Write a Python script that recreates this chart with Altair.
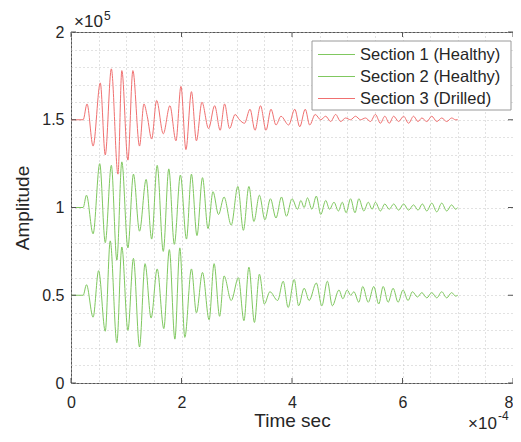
import altair as alt
import pandas as pd

# ---- data: time in units of 1e-4 s, amplitude in units of 1e5 ----
series_names = ["Section 1 (Healthy)", "Section 2 (Healthy)", "Section 3 (Drilled)"]
series_colors = ["#80c860", "#80c860", "#f07070"]

section1 = [(0.00, 0.50), (0.22, 0.50), (0.28, 0.56), (0.40, 0.375), (0.50, 0.64), (0.62, 0.295),
            (0.71, 0.81), (0.83, 0.23), (0.92, 0.775), (1.03, 0.30), (1.13, 0.71), (1.24, 0.205),
            (1.34, 0.68), (1.45, 0.37), (1.56, 0.65), (1.68, 0.31), (1.78, 0.76), (1.88, 0.25),
            (1.97, 0.77), (2.06, 0.26), (2.18, 0.65), (2.27, 0.40), (2.38, 0.63), (2.50, 0.36),
            (2.59, 0.68), (2.69, 0.38), (2.77, 0.61), (2.90, 0.47), (3.03, 0.60), (3.13, 0.355),
            (3.22, 0.66), (3.32, 0.345), (3.41, 0.62), (3.50, 0.45), (3.60, 0.52), (3.74, 0.47),
            (3.84, 0.58), (3.93, 0.43), (4.04, 0.59), (4.12, 0.44), (4.22, 0.54), (4.31, 0.47),
            (4.44, 0.57), (4.54, 0.44), (4.64, 0.58), (4.73, 0.44), (4.85, 0.53), (4.92, 0.48),
            (5.00, 0.53), (5.06, 0.50), (5.12, 0.52), (5.21, 0.46), (5.28, 0.55), (5.38, 0.46),
            (5.48, 0.55), (5.57, 0.45), (5.65, 0.55), (5.74, 0.46), (5.83, 0.54), (5.92, 0.46),
            (6.01, 0.53), (6.10, 0.47), (6.18, 0.52), (6.27, 0.49), (6.35, 0.515), (6.44, 0.485),
            (6.53, 0.515), (6.62, 0.485), (6.71, 0.52), (6.80, 0.485), (6.89, 0.515), (6.96, 0.495),
            (7.00, 0.50)]

section2 = [(0.00, 1.00), (0.22, 1.00), (0.28, 1.07), (0.40, 0.85), (0.52, 1.25), (0.62, 0.80),
            (0.73, 1.24), (0.83, 0.70), (0.92, 1.26), (1.03, 0.77), (1.13, 1.19), (1.24, 0.865),
            (1.36, 1.16), (1.46, 0.82), (1.56, 1.24), (1.67, 0.75), (1.77, 1.22), (1.87, 0.79),
            (1.98, 1.185), (2.09, 0.82), (2.18, 1.19), (2.28, 0.84), (2.38, 1.17), (2.48, 0.88),
            (2.57, 1.09), (2.67, 0.96), (2.77, 1.06), (2.90, 0.90), (3.02, 1.12), (3.12, 0.87),
            (3.22, 1.12), (3.31, 0.92), (3.41, 1.07), (3.51, 0.93), (3.61, 1.05), (3.71, 0.94),
            (3.81, 1.06), (3.90, 0.95), (4.00, 1.05), (4.10, 0.99), (4.16, 1.04), (4.22, 1.00),
            (4.28, 1.055), (4.36, 0.99), (4.44, 1.065), (4.52, 0.96), (4.61, 1.04), (4.68, 0.99),
            (4.76, 1.03), (4.84, 0.98), (4.91, 1.03), (4.98, 0.97), (5.06, 1.05), (5.14, 0.97),
            (5.21, 1.05), (5.30, 0.98), (5.38, 1.03), (5.45, 0.99), (5.51, 1.03), (5.60, 0.98),
            (5.68, 1.02), (5.76, 0.99), (5.84, 1.02), (5.93, 0.985), (6.02, 1.02), (6.11, 0.985),
            (6.20, 1.015), (6.28, 0.985), (6.36, 1.02), (6.44, 0.98), (6.53, 1.025), (6.62, 0.975),
            (6.71, 1.025), (6.80, 0.98), (6.89, 1.015), (6.96, 0.99), (7.00, 1.00)]

section3 = [(0.00, 1.50), (0.22, 1.50), (0.29, 1.59), (0.40, 1.35), (0.53, 1.71), (0.62, 1.30),
            (0.73, 1.79), (0.85, 1.19), (0.92, 1.78), (1.03, 1.27), (1.12, 1.78), (1.24, 1.35),
            (1.32, 1.59), (1.38, 1.52), (1.46, 1.39), (1.55, 1.61), (1.67, 1.42), (1.79, 1.58),
            (1.90, 1.38), (1.99, 1.69), (2.08, 1.33), (2.18, 1.66), (2.27, 1.38), (2.37, 1.60),
            (2.49, 1.45), (2.60, 1.58), (2.70, 1.44), (2.78, 1.59), (2.87, 1.45), (2.97, 1.53),
            (3.05, 1.50), (3.14, 1.48), (3.24, 1.56), (3.33, 1.44), (3.43, 1.58), (3.53, 1.44),
            (3.62, 1.56), (3.71, 1.47), (3.80, 1.52), (3.94, 1.47), (4.05, 1.56), (4.14, 1.46),
            (4.24, 1.56), (4.32, 1.47), (4.42, 1.53), (4.52, 1.50), (4.61, 1.52), (4.70, 1.49),
            (4.79, 1.53), (4.88, 1.49), (4.97, 1.51), (5.06, 1.50), (5.15, 1.52), (5.24, 1.50),
            (5.33, 1.51), (5.42, 1.49), (5.51, 1.53), (5.60, 1.48), (5.68, 1.52), (5.76, 1.48),
            (5.84, 1.52), (5.93, 1.49), (6.02, 1.52), (6.11, 1.48), (6.20, 1.52), (6.28, 1.49),
            (6.35, 1.51), (6.44, 1.49), (6.53, 1.52), (6.62, 1.49), (6.71, 1.51), (6.80, 1.49),
            (6.89, 1.51), (6.96, 1.50), (7.00, 1.50)]

x_major = [0, 2, 4, 6, 8]
y_major = [0, 0.5, 1, 1.5, 2]
x_grid = [i * 0.5 for i in range(17)]
y_grid = [round(i * 0.1, 1) for i in range(21)]

# ---- build table ----
rows = []
for name, pts in zip(series_names, [section1, section2, section3]):
    for t, v in pts:
        rows.append({"series": name, "t": t, "v": v})
df = pd.DataFrame(rows)

W, H = 442, 351
FONT = "Liberation Sans"
TXT = "#262626"
BOX = "#555555"

xscale = alt.Scale(domain=[0, 8], nice=False, zero=False)
yscale = alt.Scale(domain=[0, 2], nice=False, zero=False)

x_axis = alt.Axis(
    values=x_grid, grid=True, gridDash=[1, 3], gridColor="#c4c4c4", gridWidth=1,
    ticks=False, domain=False, format="~g",
    labelExpr="datum.value % 2 == 0 ? datum.label : ''",
    labelAlign={"condition": {"test": "datum.value == 8", "value": "right"}, "value": "center"},
    labelOverlap=False, labelFlush=False, labelBound=False,
    labelFontSize=16, labelFont=FONT, labelColor=TXT, labelPadding=11,
    title="Time sec", titleFontSize=19, titleFont=FONT, titleColor=TXT,
    titleFontWeight="normal", titlePadding=1)
y_axis = alt.Axis(
    values=y_grid, grid=True, gridDash=[1, 3], gridColor="#c4c4c4", gridWidth=1,
    ticks=False, domain=False, format="~g",
    labelExpr="abs(datum.value * 2 - round(datum.value * 2)) < 0.001 ? datum.label : ''",
    labelOverlap=False, labelFlush=False, labelBound=False,
    labelFontSize=16, labelFont=FONT, labelColor=TXT, labelPadding=7,
    title="Amplitude", titleFontSize=19, titleFont=FONT, titleColor=TXT,
    titleFontWeight="normal", titlePadding=9)

lines = alt.Chart(df).mark_line(strokeWidth=1, interpolate="monotone").encode(
    x=alt.X("t:Q", scale=xscale, axis=x_axis),
    y=alt.Y("v:Q", scale=yscale, axis=y_axis),
    color=alt.Color("series:N", scale=alt.Scale(domain=series_names, range=series_colors),
                    legend=None),
)

xt = pd.DataFrame({"t": x_major})
yt = pd.DataFrame({"v": y_major})
tick_x_bottom = alt.Chart(xt).mark_rule(color=BOX, strokeWidth=1).encode(
    x=alt.X("t:Q", scale=xscale, axis=x_axis), y=alt.value(H), y2=alt.value(H - 5))
tick_x_top = alt.Chart(xt).mark_rule(color=BOX, strokeWidth=1).encode(
    x=alt.X("t:Q", scale=xscale, axis=x_axis), y=alt.value(0), y2=alt.value(5))
tick_y_left = alt.Chart(yt).mark_rule(color=BOX, strokeWidth=1).encode(
    y=alt.Y("v:Q", scale=yscale, axis=y_axis), x=alt.value(0), x2=alt.value(5))
tick_y_right = alt.Chart(yt).mark_rule(color=BOX, strokeWidth=1).encode(
    y=alt.Y("v:Q", scale=yscale, axis=y_axis), x=alt.value(W), x2=alt.value(W - 5))

one = pd.DataFrame({"k": [0]})

# exponent labels
exp_top = alt.Chart(one).mark_text(text="×10", align="left", baseline="middle",
                                   fontSize=17, font=FONT, color=TXT).encode(
    x=alt.value(3), y=alt.value(-10))
exp_top_sup = alt.Chart(one).mark_text(text="5", align="left", baseline="middle",
                                       fontSize=12, font=FONT, color=TXT).encode(
    x=alt.value(33), y=alt.value(-16))
exp_bot = alt.Chart(one).mark_text(text="×10", align="left", baseline="middle",
                                   fontSize=17, font=FONT, color=TXT).encode(
    x=alt.value(397), y=alt.value(392))
exp_bot_sup = alt.Chart(one).mark_text(text="-4", align="left", baseline="middle",
                                       fontSize=12, font=FONT, color=TXT).encode(
    x=alt.value(427), y=alt.value(384))

# legend box
leg_box = alt.Chart(one).mark_rect(fill="white", stroke="#9a9a9a", strokeWidth=1).encode(
    x=alt.value(241), x2=alt.value(440), y=alt.value(9), y2=alt.value(78))
leg_layers = [leg_box]
for i, (name, col) in enumerate(zip(series_names, series_colors)):
    yy = 22.5 + 22 * i
    leg_layers.append(alt.Chart(one).mark_rule(color=col, strokeWidth=1).encode(
        x=alt.value(247), x2=alt.value(284), y=alt.value(yy)))
    leg_layers.append(alt.Chart(one).mark_text(text=name, align="left", baseline="middle",
                                               fontSize=16.5, font=FONT, color=TXT).encode(
        x=alt.value(289), y=alt.value(yy)))

chart = alt.layer(
    lines, tick_x_bottom, tick_x_top, tick_y_left, tick_y_right,
    exp_top, exp_top_sup, exp_bot, exp_bot_sup, *leg_layers
).properties(
    width=W, height=H,
    autosize=alt.AutoSizeParams(type="none"),
    padding={"left": 63, "top": 24, "right": 0, "bottom": 51},
    background="white",
).configure_view(stroke=BOX, strokeWidth=1)

chart.save("out.html", embed_options={"renderer": "svg", "actions": False})
